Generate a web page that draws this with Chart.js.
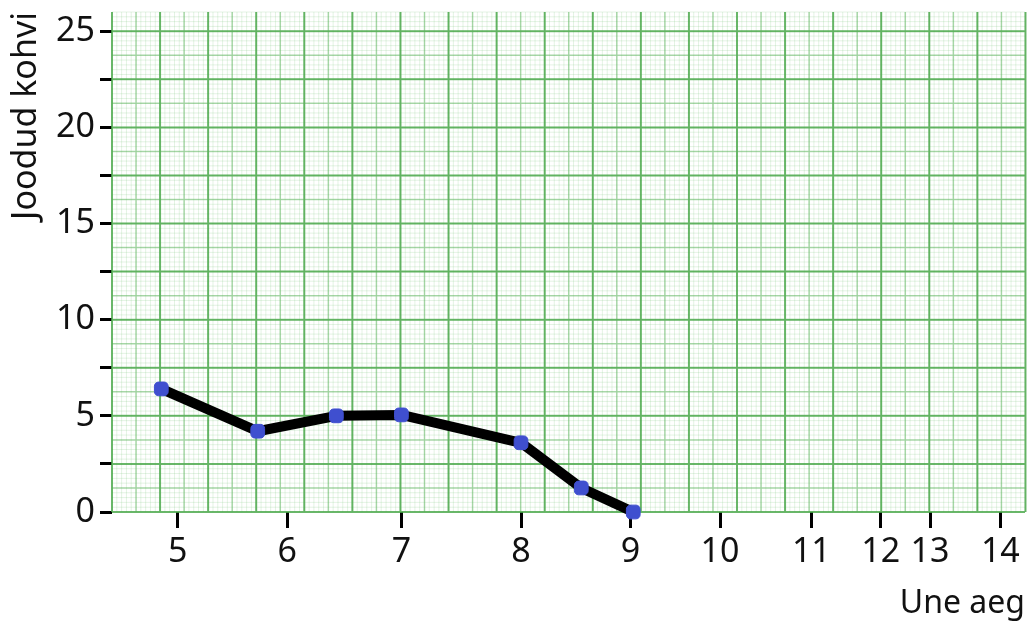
<!DOCTYPE html>
<html>
<head>
<meta charset="utf-8">
<title>Joodud kohvi / Une aeg</title>
<script src="https://cdn.jsdelivr.net/npm/chart.js@4.4.1/dist/chart.umd.min.js"></script>
<style>
  body { margin: 0; background: #fff; }
  #wrap { width: 1034px; height: 623px; }
</style>
</head>
<body>
<div id="wrap"><canvas id="coffeeChart"></canvas></div>
<script>
// Hours on the hand-drawn x axis
const hourTicks = [5, 6, 7, 8, 9, 10, 11, 12, 13, 14];
// Coffee axis ticks (labels only on multiples of 5)
const cupTicks = [0, 2.5, 5, 7.5, 10, 12.5, 15, 17.5, 20, 22.5, 25];

// Measured points: sleep time (h) vs cups of coffee
const sleepHours = [4.85, 5.73, 6.43, 7.0, 8.0, 8.55, 9.03];
const coffeeCups = [6.4, 4.2, 5.0, 5.05, 3.6, 1.25, 0];

// The hour ticks were drawn by hand, so they are not evenly spaced.
// Share of the axis width where each hour tick sits.
const hourTickSpot = [0.072, 0.192, 0.317, 0.448, 0.568, 0.666, 0.766, 0.842, 0.896, 0.973];

// Linear scale that maps values piecewise through the hand-drawn ticks
class PaperScale extends Chart.LinearScale {
    static id = 'paper';

    decimalFor(v) {
        const n = hourTicks.length;
        let i = 0;
        while (i < n - 2 && v > hourTicks[i + 1]) i++;
        const t = (v - hourTicks[i]) / (hourTicks[i + 1] - hourTicks[i]);
        return hourTickSpot[i] + t * (hourTickSpot[i + 1] - hourTickSpot[i]);
    }

    getPixelForValue(v) {
        if (v === null || v === undefined) return NaN;
        return this.getPixelForDecimal(this.decimalFor(v));
    }

    getValueForPixel(pixel) {
        const d = this.getDecimalForPixel(pixel);
        const n = hourTickSpot.length;
        let i = 0;
        while (i < n - 2 && d > hourTickSpot[i + 1]) i++;
        const t = (d - hourTickSpot[i]) / (hourTickSpot[i + 1] - hourTickSpot[i]);
        return hourTicks[i] + t * (hourTicks[i + 1] - hourTicks[i]);
    }
}
Chart.register(PaperScale);

// Graph paper background inside the plot area
const graphPaper = {
    id: 'graphPaper',
    beforeDatasetsDraw(chart) {
        const { ctx, chartArea: a, scales: { y } } = chart;
        const step = Math.abs(y.getPixelForValue(0) - y.getPixelForValue(0.25));
        const levels = [
            { every: 1, color: 'rgba(120, 195, 120, 0.2)', width: 1 },
            { every: 5, color: 'rgba(85, 175, 85, 0.45)', width: 1.5 },
            { every: 10, color: 'rgba(70, 165, 70, 0.7)', width: 2 }
        ];
        ctx.save();
        levels.forEach(level => {
            ctx.strokeStyle = level.color;
            ctx.lineWidth = level.width;
            ctx.beginPath();
            for (let k = 0; a.bottom - k * step >= a.top - 0.5; k += level.every) {
                const py = a.bottom - k * step;
                ctx.moveTo(a.left, py);
                ctx.lineTo(a.right, py);
            }
            for (let k = 0; a.left + k * step <= a.right + 0.5; k += level.every) {
                const px = a.left + k * step;
                ctx.moveTo(px, a.top);
                ctx.lineTo(px, a.bottom);
            }
            ctx.stroke();
        });
        ctx.restore();
    }
};

const ctx = document.getElementById('coffeeChart').getContext('2d');
new Chart(ctx, {
    type: 'line',
    data: {
        datasets: [{
            label: 'Joodud kohvi',
            data: sleepHours.map((h, i) => ({ x: h, y: coffeeCups[i] })),
            borderColor: '#000',
            borderWidth: 10,
            borderCapStyle: 'round',
            borderJoinStyle: 'round',
            tension: 0,
            pointStyle: 'rectRounded',
            pointRadius: 8,
            pointBackgroundColor: '#3f4fcf',
            pointBorderColor: '#3f4fcf',
            pointBorderWidth: 1,
            clip: false
        }]
    },
    options: {
        responsive: true,
        maintainAspectRatio: false,
        animation: false,
        layout: { padding: { top: 12, right: 6, left: 0, bottom: 0 } },
        plugins: {
            legend: { display: false },
            tooltip: { enabled: false }
        },
        scales: {
            x: {
                type: 'paper',
                position: 'bottom',
                min: 4.4,
                max: 14.4,
                afterBuildTicks: s => { s.ticks = hourTicks.map(v => ({ value: v })); },
                afterFit: s => { s.height = 111; s.paddingLeft = 0; s.paddingRight = 0; },
                border: { display: false },
                grid: { drawOnChartArea: false, color: '#000', lineWidth: 3, tickLength: 16 },
                ticks: {
                    autoSkip: false,
                    maxRotation: 0,
                    padding: 4,
                    color: '#111',
                    font: { family: 'Noto Sans', size: 34 }
                },
                title: {
                    display: true,
                    text: 'Une aeg',
                    align: 'end',
                    color: '#111',
                    padding: { top: 0, bottom: 0 },
                    font: { family: 'Noto Sans', size: 32 }
                }
            },
            y: {
                min: 0,
                max: 26,
                afterBuildTicks: s => { s.ticks = cupTicks.map(v => ({ value: v })); },
                afterFit: s => { s.width = 112; s.paddingTop = 0; s.paddingBottom = 0; },
                border: { display: false },
                grid: { drawOnChartArea: false, color: '#000', lineWidth: 3, tickLength: 12 },
                ticks: {
                    autoSkip: false,
                    padding: 5,
                    color: '#111',
                    font: { family: 'Noto Sans', size: 34 },
                    callback: v => (v % 5 === 0 ? String(v) : '')
                },
                title: {
                    display: true,
                    text: 'Joodud kohvi',
                    align: 'end',
                    color: '#111',
                    padding: { top: 6, bottom: 0 },
                    font: { family: 'Noto Sans', size: 34 }
                }
            }
        }
    },
    plugins: [graphPaper]
});
</script>
</body>
</html>
